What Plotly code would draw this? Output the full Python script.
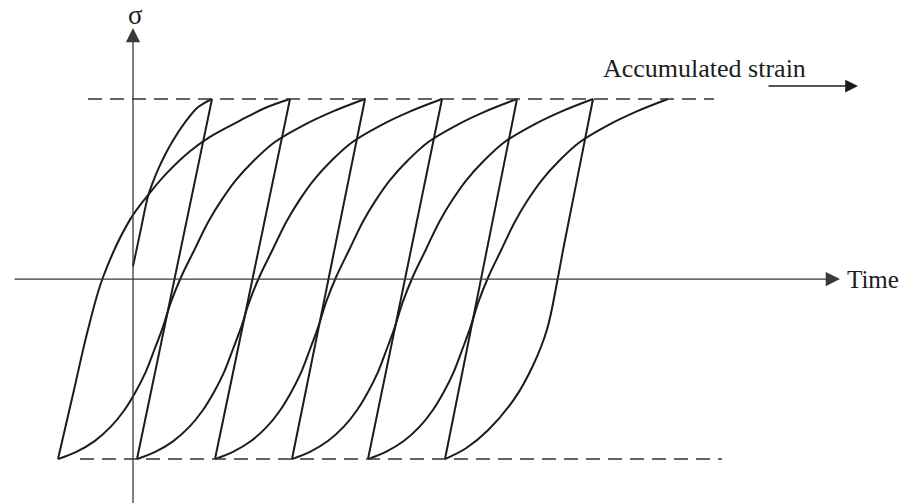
import plotly.graph_objects as go

# ---- cycle extremes (strain position of each turning point) ----
peak_strain = [0.79, 1.57, 2.32, 3.09, 3.84, 4.60]      # stress = +sigma_max
final_peak_strain = 5.35                                 # end of the last reloading
valley_strain = [-0.75, 0.04, 0.82, 1.59, 2.35, 3.12]    # stress = -sigma_max
start_strain, start_stress = 0.0, 0.07

# ---- branch profiles (strain offset from branch start, normalised stress) ----
# first loading from the start point up to the first peak
first_dx = [0, 0.08, 0.15, 0.20, 0.26, 0.33, 0.40, 0.52, 0.64, 0.72, 0.79]
first_s = [0.07, 0.28, 0.46, 0.54, 0.62, 0.70, 0.77, 0.87, 0.95, 0.98, 1.0]

# loading from the first valley to the second peak
load_dx = [0, 0.15, 0.30, 0.45, 0.72, 0.92, 1.09, 1.32, 1.52, 1.82, 2.07, 2.32]
load_s = [-1.0, -0.64, -0.28, 0.01, 0.33, 0.48, 0.59, 0.71, 0.79, 0.88, 0.95, 1.0]

# S-shaped reloading branch from a valley to the peak two cycles ahead
s_dx = [0, 0.18, 0.36, 0.52, 0.65, 0.76, 0.86, 0.95, 1.03, 1.11, 1.21, 1.34,
        1.48, 1.61, 1.75, 1.93, 2.13, 2.40, 2.70, 3.02]
s_s = [-1.0, -0.96, -0.90, -0.82, -0.73, -0.63, -0.52, -0.39, -0.27, -0.13,
       0.01, 0.16, 0.32, 0.44, 0.55, 0.66, 0.76, 0.85, 0.93, 1.0]

# last unloading branch from the final peak down to the final valley
unload_dx = [0, -0.10, -0.20, -0.30, -0.35, -0.46, -0.60, -0.78, -1.05, -1.27, -1.48]
unload_s = [1.0, 0.72, 0.44, 0.16, 0.01, -0.28, -0.48, -0.66, -0.84, -0.94, -1.0]

# ---- frame ----
X_RANGE = [-1.33, 7.71]
Y_RANGE = [-1.244, 1.55]
INK = "#1c1c1c"
AXIS = "#3a3a3a"
FONT = "Liberation Serif, Times New Roman, serif"

fig = go.Figure()


def branch(x, y):
    fig.add_trace(go.Scatter(
        x=x, y=y, mode="lines",
        line=dict(color=INK, width=2, shape="spline", smoothing=1.0),
        hoverinfo="skip", showlegend=False))


# first loading
branch([start_strain + d for d in first_dx], first_s)

# loading from the first valley
branch([valley_strain[0] + d for d in load_dx], load_s)

# S-shaped reloading branches
peaks_all = peak_strain + [final_peak_strain]
for k in range(len(valley_strain) - 1):
    b = valley_strain[k]
    t = peaks_all[k + 2]
    scale = (t - b) / s_dx[-1]
    branch([b + d * scale for d in s_dx], s_s)

# straight elastic unloading from each peak to the next valley
for k in range(len(peak_strain) - 1):
    fig.add_trace(go.Scatter(
        x=[peak_strain[k], valley_strain[k + 1]], y=[1.0, -1.0], mode="lines",
        line=dict(color=INK, width=2), hoverinfo="skip", showlegend=False))

# last unloading branch
p = peak_strain[-1]
scale = (valley_strain[-1] - p) / unload_dx[-1]
branch([p + d * scale for d in unload_dx], unload_s)

# ---- stress limits (dashed) ----
fig.add_trace(go.Scatter(
    x=[-0.45, 5.81], y=[1.0, 1.0], mode="lines",
    line=dict(color="#333333", width=1.6, dash="14px,8px"),
    hoverinfo="skip", showlegend=False))
fig.add_trace(go.Scatter(
    x=[-0.53, 5.89], y=[-1.0, -1.0], mode="lines",
    line=dict(color="#333333", width=1.6, dash="14px,8px"),
    hoverinfo="skip", showlegend=False))

# ---- axes drawn as arrows ----
arrow_common = dict(xref="x", yref="y", axref="x", ayref="y", text="",
                    showarrow=True, arrowhead=2, arrowcolor=AXIS, standoff=0)
fig.add_annotation(x=7.07, y=0.0, ax=-1.20, ay=0.0, arrowwidth=1.3,
                   arrowsize=2.2, **arrow_common)
fig.add_annotation(x=0.0, y=1.395, ax=0.0, ay=-1.26, arrowwidth=1.3,
                   arrowsize=2.2, **arrow_common)
fig.add_annotation(x=7.25, y=1.072, ax=6.34, ay=1.072, arrowwidth=1.6,
                   arrowsize=1.6, **{**arrow_common, "arrowcolor": INK})

# ---- labels ----
fig.add_annotation(x=0.02, y=1.467, text="σ", showarrow=False,
                   font=dict(family=FONT, size=27, color=INK),
                   xanchor="center", yanchor="middle")
fig.add_annotation(x=7.12, y=-0.005, text="Time", showarrow=False,
                   font=dict(family=FONT, size=25, color=INK),
                   xanchor="left", yanchor="middle")
fig.add_annotation(x=4.68, y=1.17, text="Accumulated strain", showarrow=False,
                   font=dict(family=FONT, size=26, color=INK),
                   xanchor="left", yanchor="middle")

fig.update_xaxes(range=X_RANGE, visible=False, showgrid=False, zeroline=False)
fig.update_yaxes(range=Y_RANGE, visible=False, showgrid=False, zeroline=False)
fig.update_layout(width=904, height=503, margin=dict(l=0, r=0, t=0, b=0),
                  paper_bgcolor="white", plot_bgcolor="white",
                  showlegend=False)

fig.write_html("out.html")
